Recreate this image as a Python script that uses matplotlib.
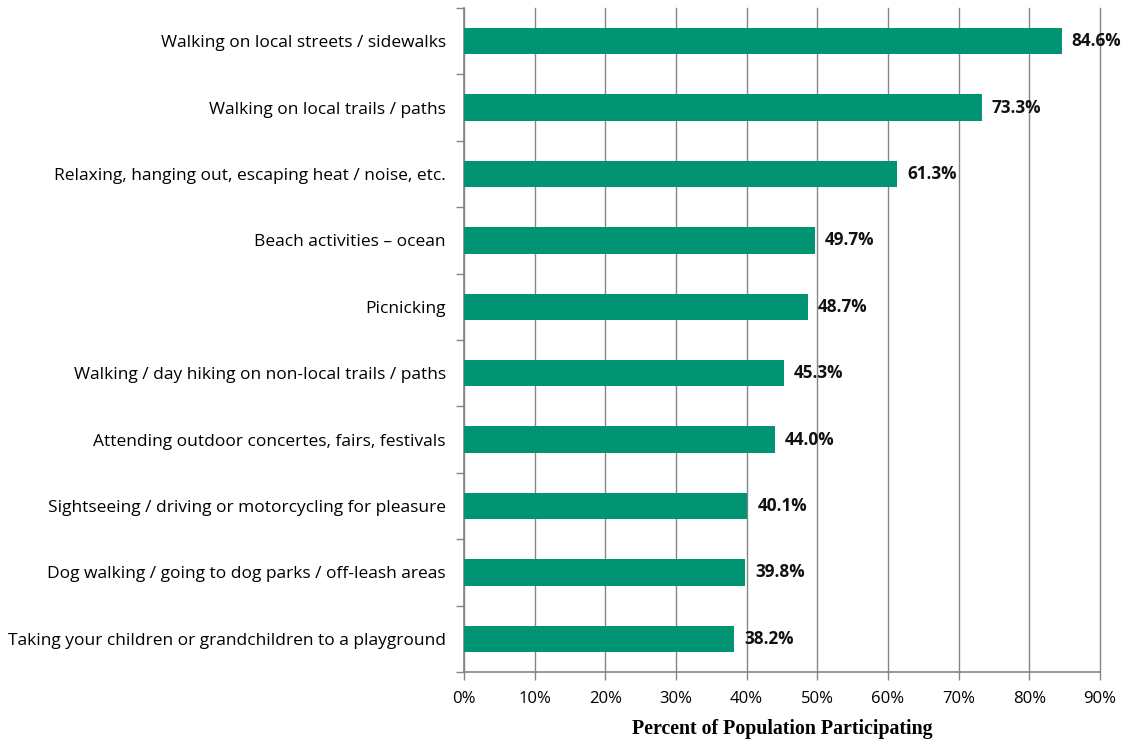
import matplotlib.pyplot as plt
from matplotlib.ticker import FixedLocator

activities = [
    'Walking on local streets / sidewalks',
    'Walking on local trails / paths',
    'Relaxing, hanging out, escaping heat / noise, etc.',
    'Beach activities \u2013 ocean',
    'Picnicking',
    'Walking / day hiking on non-local trails / paths',
    'Attending outdoor concertes, fairs, festivals',
    'Sightseeing / driving or motorcycling for pleasure',
    'Dog walking / going to dog parks / off-leash areas',
    'Taking your children or grandchildren to a playground',
]
percents = [84.6, 73.3, 61.3, 49.7, 48.7, 45.3, 44.0, 40.1, 39.8, 38.2]
xticks = list(range(0, 91, 10))

plt.rcParams['font.family'] = ['Open Sans', 'DejaVu Sans']

fig = plt.figure(figsize=(11.25, 7.4), dpi=100)
ax = fig.add_axes([464 / 1125, 1 - 672 / 740, 636 / 1125, 664 / 740])

pos = list(range(len(activities)))
ax.barh(pos, percents, height=0.4, color='#009473', zorder=3)

for p, v in zip(pos, percents):
    ax.text(v + 1.4, p, f'{v:.1f}%', va='center', ha='left',
            fontsize=12.3, fontweight='bold', color='#111111', zorder=4)

ax.set_xlim(0, 90)
ax.set_ylim(len(activities) - 0.5, -0.5)
ax.set_xticks(xticks)
ax.set_xticklabels([f'{t}%' for t in xticks], fontsize=12)
ax.set_yticks(pos)
ax.set_yticklabels(activities, fontsize=12.5)
ax.tick_params(axis='y', which='major', length=0, pad=13)
ax.yaxis.set_minor_locator(FixedLocator([p - 0.5 for p in pos] + [len(pos) - 0.5]))
ax.tick_params(axis='y', which='minor', length=6, color='#868686', width=1)
ax.tick_params(axis='x', length=6, color='#868686', width=1, pad=8)

ax.grid(axis='x', color='#868686', linewidth=1, zorder=0)
for gl in ax.get_xgridlines():
    gl.set_clip_on(False)
for s in ['top', 'right']:
    ax.spines[s].set_visible(False)
for s in ['left', 'bottom']:
    ax.spines[s].set_color('#868686')
    ax.spines[s].set_linewidth(1.2)

ax.set_xlabel('Percent of Population Participating', fontsize=14.3,
              fontweight='bold', family='Liberation Serif', labelpad=8)

fig.savefig('out.png', dpi=100)
